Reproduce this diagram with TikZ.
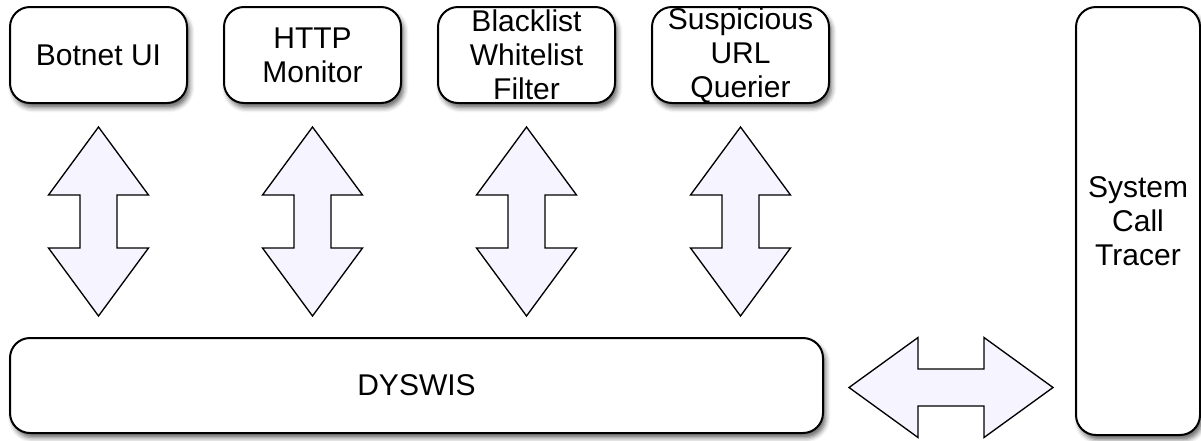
\documentclass[tikz,border=0pt]{standalone}
\usepackage{fontspec}
\setmainfont{Liberation Sans}
\usetikzlibrary{positioning, shadows.blur}
\definecolor{arrowfill}{RGB}{245,244,255}

\begin{document}
\begin{tikzpicture}[x=0.75pt, y=-0.75pt, node distance=26.25pt,
    module/.style={draw, line width=1.5pt, rounded corners=15pt, fill=white,
      align=center, inner sep=0pt, font=\fontsize{22.5}{25.5}\selectfont,
      blur shadow={shadow xshift=2pt, shadow yshift=-3.5pt, shadow blur radius=3.5pt, shadow opacity=60}},
    topbox/.style={module, minimum width=132.75pt, minimum height=72pt},
    twoway/.style={draw, line width=1pt, fill=arrowfill, line join=miter}]
  \useasboundingbox (0,0) rectangle (1201,440);

  % modules on top
  \node [topbox] (botnet) at (98.5,55) {Botnet UI};
  \node [topbox, right=of botnet] (http) {HTTP\\Monitor};
  \node [topbox, right=of http] (filter) {Blacklist\\Whitelist\\Filter};
  \node [topbox, right=of filter] (querier) {Suspicious\\URL\\Querier};

  % core and tracer
  \node [module, minimum width=609.75pt, minimum height=71.25pt] (dyswis) at (416.5,385.5) {DYSWIS};
  \node [module, minimum width=93pt, minimum height=321pt] (tracer) at (1138,221) {System\\Call\\Tracer};

  % two-way arrows
  \foreach \m in {botnet, http, filter, querier}
    \draw [twoway, shift={(\m.south)}] (0,23) -- (50,91) -- (18.5,91) -- (18.5,144) -- (50,144)
      -- (0,212) -- (-50,144) -- (-18.5,144) -- (-18.5,91) -- (-50,91) -- cycle;
  \draw [twoway, shift={(dyswis.east)}] (25,2) -- (94,-48) -- (94,-16.5) -- (160,-16.5) -- (160,-48)
    -- (229,2) -- (160,52) -- (160,20.5) -- (94,20.5) -- (94,52) -- cycle;
\end{tikzpicture}
\end{document}
